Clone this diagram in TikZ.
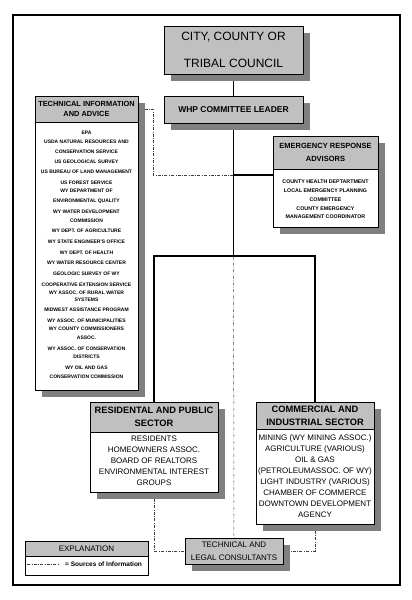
\documentclass[tikz,border=0pt]{standalone}
\usepackage{fontspec}
\setmainfont{Liberation Sans}
\usetikzlibrary{shadows,backgrounds}
\definecolor{boxgray}{RGB}{192,192,192}
\definecolor{shadegray}{RGB}{128,128,128}
\tikzset{
orgbox/.style={draw, fill=boxgray, inner sep=0pt, outer sep=0pt, anchor=north west, align=center},
shadowed/.style={drop shadow={shadow xshift=7pt, shadow yshift=-7pt, fill=shadegray, opacity=1}},
info/.style={draw=black!75, line width=0.5pt, dash pattern=on 3pt off 1.5pt on 0.6pt off 1.5pt},
chain/.style={line width=1.6pt}
}
\begin{document}
\begin{tikzpicture}[x=1pt,y=-1pt]
\useasboundingbox (0,0) rectangle (412,600);
\draw[line width=2.5pt] (13,15) rectangle (400,585);

\node[orgbox, shadowed, minimum width=139, minimum height=48, font=\fontsize{12}{27}\selectfont] (council) at (164,26) {CITY, COUNTY OR\\TRIBAL COUNCIL};
\node[orgbox, shadowed, minimum width=139, minimum height=27, font=\bfseries\fontsize{8.5}{10}\selectfont] (leader) at (164,96) {WHP COMMITTEE LEADER};

\node[orgbox, shadowed, fill=white, minimum width=103, minimum height=294] (tinfo) at (35,96) {};
\node[orgbox, minimum width=103, minimum height=26, font=\bfseries\fontsize{7.4}{10}\selectfont] (tinfoH) at (tinfo.north west) {TECHNICAL INFORMATION\\AND ADVICE};
\foreach \ypos/\txt [count=\i] in {133/EPA, 142/USDA NATURAL RESOURCES AND, 152/CONSERVATION SERVICE,
162/US GEOLOGICAL SURVEY, 172/US BUREAU OF LAND MANAGEMENT, 183/US FOREST SERVICE,
191/WY DEPARTMENT OF, 201/ENVIRONMENTAL QUALITY, 212/WY WATER DEVELOPMENT, 221/COMMISSION,
231/WY DEPT. OF AGRICULTURE, 242/WY STATE ENGINEER'S OFFICE, 253/WY DEPT. OF HEALTH,
263/WY WATER RESOURCE CENTER, 274/GEOLOGIC SURVEY OF WY, 285/COOPERATIVE EXTENSION SERVICE,
293/WY ASSOC. OF RURAL WATER, 300/SYSTEMS, 310/MIDWEST ASSISTANCE PROGRAM,
321/WY ASSOC. OF MUNICIPALITIES, 329/WY COUNTY COMMISSIONERS, 338/ASSOC.,
349/WY ASSOC. OF CONSERVATION, 357/DISTRICTS, 368/WY OIL AND GAS, 377/CONSERVATION COMMISSION}
{
\node[font=\bfseries\fontsize{5}{6}\selectfont, inner sep=0pt] (tline\i) at (86.5,\ypos) {\txt};
}

\node[orgbox, shadowed, fill=white, minimum width=105, minimum height=91] (emerg) at (273,136) {};
\node[orgbox, minimum width=105, minimum height=33, font=\bfseries\fontsize{7.5}{13}\selectfont] (emergH) at (emerg.north west) {EMERGENCY RESPONSE\\ADVISORS};
\node[font=\bfseries\fontsize{5.3}{8.75}\selectfont, align=center, inner sep=0pt] (emergB) at (325.5,199.5) {COUNTY HEALTH DEPTARTMENT\\LOCAL EMERGENCY PLANNING\\COMMITTEE\\COUNTY EMERGENCY\\MANAGEMENT COORDINATOR};

\node[orgbox, shadowed, fill=white, minimum width=128, minimum height=90] (resid) at (90,402) {};
\node[orgbox, minimum width=128, minimum height=30, font=\bfseries\fontsize{9.3}{13}\selectfont] (residH) at (resid.north west) {RESIDENTAL AND PUBLIC\\SECTOR};
\node[font=\fontsize{8}{11}\selectfont, align=center, inner sep=0pt] (residB) at (154,461) {RESIDENTS\\HOMEOWNERS ASSOC.\\BOARD OF REALTORS\\ENVIRONMENTAL INTEREST\\GROUPS};

\node[orgbox, shadowed, fill=white, minimum width=118, minimum height=122] (comm) at (256,402) {};
\node[orgbox, minimum width=118, minimum height=27, font=\bfseries\fontsize{9.3}{13}\selectfont] (commH) at (comm.north west) {COMMERCIAL AND\\INDUSTRIAL SECTOR};
\node[font=\fontsize{8}{11}\selectfont, align=center, inner sep=0pt] (commB) at (315,476.5) {MINING (WY MINING ASSOC.)\\AGRICULTURE (VARIOUS)\\OIL \& GAS\\(PETROLEUMASSOC. OF WY)\\LIGHT INDUSTRY (VARIOUS)\\CHAMBER OF COMMERCE\\DOWNTOWN DEVELOPMENT\\AGENCY};

\node[orgbox, shadowed, minimum width=98, minimum height=26, font=\fontsize{8}{13}\selectfont] (consult) at (185,538) {TECHNICAL AND\\LEGAL CONSULTANTS};

\node[orgbox, fill=white, minimum width=123, minimum height=34] (expl) at (25,541) {};
\node[orgbox, minimum width=123, minimum height=15, font=\fontsize{8}{10}\selectfont] (explH) at (expl.north west) {EXPLANATION};
\coordinate (key1) at (27,564);
\coordinate (key2) at (60,564);
\draw[info] (key1) -- (key2);
\node[anchor=west, font=\bfseries\fontsize{6.5}{8}\selectfont, inner sep=0pt] (keytxt) at (65,564) {= Sources of Information};

\begin{scope}[on background layer]
\coordinate (fork) at (233.5,256);
\coordinate (ebranch) at (233.5,175);
\draw[line width=1.2pt] (council.south) -- (leader.north);
\draw[chain] (leader.south) -- (fork);
\draw[chain] (ebranch) -- (ebranch -| emerg.west);
\draw[chain] (resid.north) |- (fork) -| (comm.north);
\draw[info] (tinfoH.east) -- ++(15,0) |- (ebranch);
\draw[info] (fork) -- (consult.north);
\draw[info] (resid.south) |- (consult.west);
\draw[info] (comm.south) |- (consult.east);
\end{scope}
\end{tikzpicture}
\end{document}
